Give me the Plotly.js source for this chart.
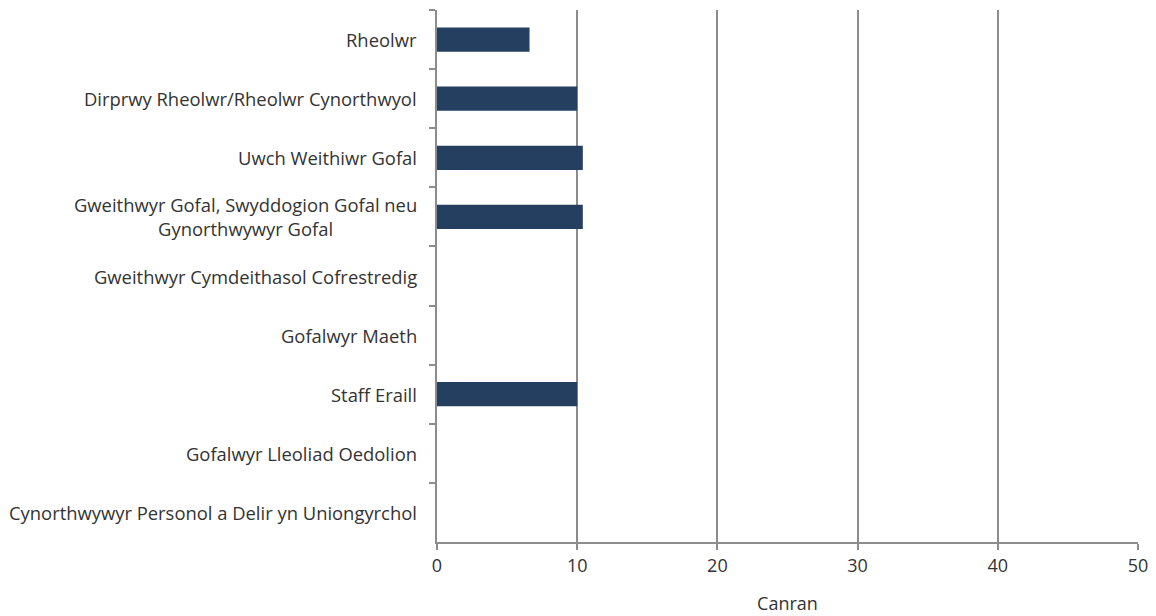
<!DOCTYPE html>
<html>
<head>
<meta charset="utf-8">
<script src="https://cdn.plot.ly/plotly-3.0.1.min.js"></script>
<style>html,body{margin:0;padding:0;background:#fff;}#chart{width:1156px;height:616px;}</style>
</head>
<body>
<div id="chart"></div>
<script>
const categories = [
  "Rheolwr",
  "Dirprwy Rheolwr/Rheolwr Cynorthwyol",
  "Uwch Weithiwr Gofal",
  "Gweithwyr Gofal, Swyddogion Gofal neu<br>Gynorthwywyr Gofal",
  "Gweithwyr Cymdeithasol Cofrestredig",
  "Gofalwyr Maeth",
  "Staff Eraill",
  "Gofalwyr Lleoliad Oedolion",
  "Cynorthwywyr Personol a Delir yn Uniongyrchol"
];
const values = [6.6, 10.0, 10.4, 10.4, 0, 0, 10.0, 0, 0];
const xTicks = [0, 10, 20, 30, 40, 50];
const xTitle = "Canran";

const textColor = "#333333";
const gridColor = "#8c8c8c";
const fontFamily = "Open Sans, sans-serif";

const trace = {
  type: "bar",
  orientation: "h",
  x: values,
  y: categories,
  marker: {color: "#243f60", line: {width: 0}},
  hoverinfo: "x+y"
};

const annotations = categories.map(c => ({
  x: 0, xref: "paper", xanchor: "right", xshift: -18,
  y: c, yref: "y", yanchor: "middle",
  text: c, showarrow: false, align: "center",
  font: {family: fontFamily, size: 18.4, color: textColor}
}));

const layout = {
  width: 1156, height: 616,
  margin: {l: 437, r: 18, t: 10, b: 74},
  paper_bgcolor: "#fff", plot_bgcolor: "#fff",
  showlegend: false,
  bargap: 0.59,
  font: {family: fontFamily, size: 18, color: textColor},
  xaxis: {
    range: [0, 50],
    tickvals: xTicks,
    ticktext: xTicks.map(String),
    showgrid: true, gridcolor: gridColor, gridwidth: 2,
    zeroline: false,
    showline: true, linecolor: gridColor, linewidth: 2,
    ticks: "outside", ticklen: 6, tickcolor: gridColor, tickwidth: 2,
    tickfont: {size: 18, color: textColor},
    title: {text: xTitle, font: {size: 18, color: textColor}, standoff: 22}
  },
  yaxis: {
    type: "category",
    autorange: "reversed",
    showticklabels: false,
    showline: true, linecolor: gridColor, linewidth: 2,
    ticks: "outside", ticklen: 6, tickcolor: gridColor, tickwidth: 2,
    tickson: "boundaries",
    showgrid: false, zeroline: false
  },
  annotations: annotations
};

Plotly.newPlot("chart", [trace], layout, {displayModeBar: false, staticPlot: true});
</script>
</body>
</html>
